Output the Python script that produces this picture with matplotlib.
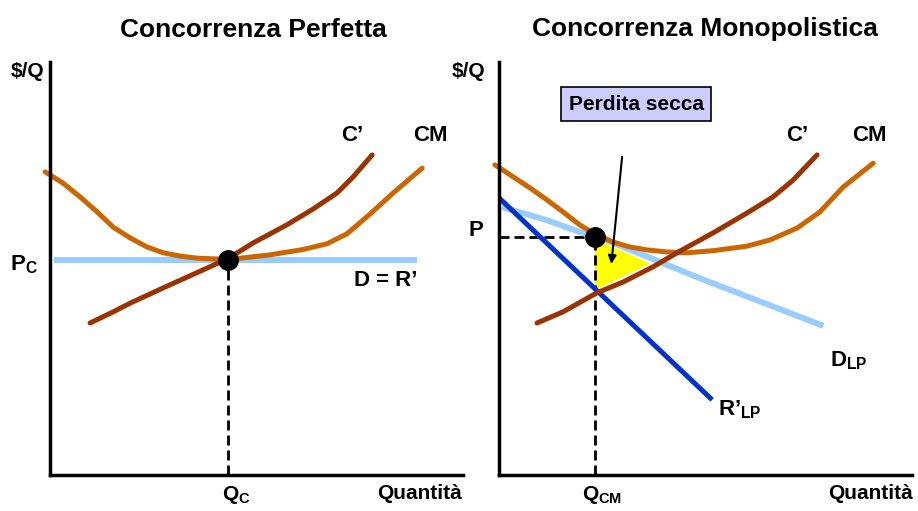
import matplotlib.pyplot as plt
from matplotlib.patches import Polygon

plt.rcParams['font.family'] = ['Liberation Sans', 'DejaVu Sans']
plt.rcParams['font.weight'] = 'bold'
plt.rcParams['mathtext.fontset'] = 'custom'
plt.rcParams['mathtext.rm'] = 'Liberation Sans:bold'
plt.rcParams['mathtext.bf'] = 'Liberation Sans:bold'
plt.rcParams['mathtext.it'] = 'Liberation Sans:bold'

# --- concorrenza perfetta (quantity 0-100, $/Q 0-100) ---
pc_cm_x = [-1.2, 3.1, 7.3, 11.4, 15.3, 19.4, 23.5, 27.4, 31.5, 35.6, 40.4, 43.1,
           45.3, 53.3, 61.3, 67.1, 71.9, 77.5, 83.1, 90.1]
pc_cm_y = [73.4, 70.7, 67.3, 63.7, 60.0, 57.4, 55.2, 53.8, 53.0, 52.5, 52.3, 52.3,
           52.4, 53.3, 54.6, 56.0, 58.4, 63.2, 68.3, 74.3]
pc_cmg_x = [9.7, 15.3, 19.4, 27.4, 35.6, 43.1, 49.2, 57.4, 63.7, 69.5, 73.4, 78.0]
pc_cmg_y = [36.8, 39.5, 41.6, 45.3, 49.0, 52.4, 56.2, 60.6, 64.4, 68.3, 72.2, 77.5]
pc_d_x = [1.0, 88.9]
pc_d_y = [52.1, 52.1]
pc_eq = (43.1, 52.1)

# --- concorrenza monopolistica ---
mc_cm_x = [-1.0, 3.4, 7.5, 11.6, 15.5, 19.6, 23.2, 27.6, 31.7, 35.8, 40.7, 45.5,
           51.8, 60.0, 65.6, 72.2, 77.7, 83.3, 90.6]
mc_cm_y = [75.1, 72.2, 69.5, 66.6, 63.7, 60.5, 58.4, 56.4, 55.2, 54.5, 54.0, 53.8,
           54.3, 55.4, 56.9, 59.8, 63.7, 69.7, 75.5]
mc_cmg_x = [9.2, 15.5, 23.7, 30.0, 37.3, 43.8, 51.8, 60.0, 66.3, 71.2, 77.0]
mc_cmg_y = [36.8, 39.5, 44.1, 46.7, 50.4, 54.2, 58.6, 63.4, 67.3, 71.4, 77.5]
mc_d_x = [0.7, 11.6, 19.6, 23.2, 27.6, 35.8, 43.8, 48.7, 78.5]
mc_d_y = [64.9, 61.7, 58.8, 57.7, 56.2, 52.9, 49.6, 47.6, 36.1]
mc_r_x = [0.0, 51.6]
mc_r_y = [67.1, 18.2]
mc_eq = (23.2, 57.6)
mc_loss_x = [23.2, 23.2, 36.6]
mc_loss_y = [57.1, 44.8, 51.2]

ORANGE = '#CC6600'
BROWN = '#993300'
LIGHT = '#99CCFF'
BLUE = '#0033CC'
DASH = (0, (3.6, 1.8))

fig = plt.figure(figsize=(9.18, 5.11), dpi=100)
ax1 = fig.add_axes([0.0545, 0.0705, 0.4499, 0.8082])
ax2 = fig.add_axes([0.5436, 0.0705, 0.4499, 0.8082])

for ax in (ax1, ax2):
    ax.set_xlim(0, 100)
    ax.set_ylim(0, 100)
    ax.set_xticks([])
    ax.set_yticks([])
    for s in ('top', 'right'):
        ax.spines[s].set_visible(False)
    for s in ('left', 'bottom'):
        ax.spines[s].set_linewidth(2.5)
        ax.spines[s].set_zorder(6)


def label(ax, x, y, s, size=16, ha='left', va='center'):
    ax.text(x, y, s, fontsize=size, ha=ha, va=va, fontweight='bold', clip_on=False)


def curve(ax, xs, ys, color, lw=3.6, z=3):
    ax.plot(xs, ys, color=color, lw=lw, solid_capstyle='round',
            solid_joinstyle='round', clip_on=False, zorder=z)


# left panel
ax1.plot(pc_d_x, pc_d_y, color=LIGHT, lw=4.3, solid_capstyle='butt', zorder=2)
curve(ax1, pc_cm_x, pc_cm_y, ORANGE)
curve(ax1, pc_cmg_x, pc_cmg_y, BROWN, z=4)
ax1.plot([pc_eq[0], pc_eq[0]], [0, pc_eq[1]], color='black', lw=2, ls=DASH, zorder=1)
ax1.plot(*pc_eq, 'o', color='black', ms=14, zorder=5)

label(ax1, 49.2, 107.8, 'Concorrenza Perfetta', size=19, ha='center')
label(ax1, -1.3, 97.6, '$/Q', size=15, ha='right')
label(ax1, 73.1, 82.3, 'C’', ha='center')
label(ax1, 92.0, 82.3, 'CM', ha='center')
label(ax1, -2.9, 50.8, r'P$_{\mathrm{C}}$', ha='right')
label(ax1, 88.9, 47.2, 'D = R’', ha='right')
label(ax1, 45.0, -6.1, r'Q$_{\mathrm{C}}$', size=15, ha='center', va='baseline')
label(ax1, 99.8, -4.4, 'Quantità', size=15, ha='right')

# right panel
ax2.add_patch(Polygon(list(zip(mc_loss_x, mc_loss_y)), closed=True, fc='#FFFF00', ec='none', zorder=1))
ax2.plot(mc_d_x, mc_d_y, color=LIGHT, lw=4.3, solid_capstyle='butt', solid_joinstyle='round', zorder=2)
ax2.plot(mc_r_x, mc_r_y, color=BLUE, lw=3.6, solid_capstyle='butt', zorder=3)
curve(ax2, mc_cm_x, mc_cm_y, ORANGE)
curve(ax2, mc_cmg_x, mc_cmg_y, BROWN, z=4)
ax2.plot([mc_eq[0], mc_eq[0]], [0, mc_eq[1]], color='black', lw=2, ls=DASH, zorder=1)
ax2.plot([0, mc_eq[0]], [mc_eq[1], mc_eq[1]], color='black', lw=2, ls=DASH, zorder=1)
ax2.plot(*mc_eq, 'o', color='black', ms=14, zorder=5)
ax2.annotate('', xy=(27.2, 51.1), xytext=(29.8, 77.0),
             arrowprops=dict(arrowstyle='-|>', color='black', lw=1.5, mutation_scale=12,
                             shrinkA=0, shrinkB=0), zorder=5)

label(ax2, 49.9, 108.1, 'Concorrenza Monopolistica', size=19, ha='center')
label(ax2, -3.4, 97.6, '$/Q', size=15, ha='right')
ax2.text(33.2, 89.8, 'Perdita secca', fontsize=15, fontweight='bold', ha='center', va='center',
         bbox=dict(boxstyle='square,pad=0.35', fc='#CCCCFF', ec='black', lw=1.2))
label(ax2, 72.2, 82.3, 'C’', ha='center')
label(ax2, 89.6, 82.3, 'CM', ha='center')
label(ax2, -3.9, 59.1, 'P', ha='right')
label(ax2, 80.1, 26.2, r'D$_{\mathrm{LP}}$', va='baseline')
label(ax2, 53.0, 14.5, r'R’$_{\mathrm{LP}}$', va='baseline')
label(ax2, 24.9, -6.1, r'Q$_{\mathrm{CM}}$', size=15, ha='center', va='baseline')
label(ax2, 100.2, -4.4, 'Quantità', size=15, ha='right')

fig.savefig('out.png', dpi=100)
